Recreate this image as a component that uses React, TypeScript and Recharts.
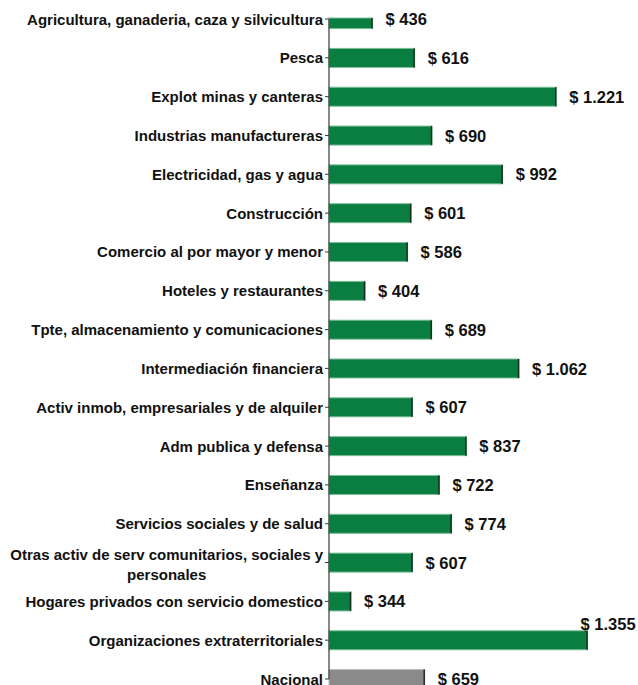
import React from 'react';
import { BarChart, Bar, XAxis, YAxis, Cell, LabelList } from 'recharts';

const categories = [
  'Agricultura, ganaderia, caza y silvicultura',
  'Pesca',
  'Explot minas y canteras',
  'Industrias manufactureras',
  'Electricidad, gas y agua',
  'Construcción',
  'Comercio al por mayor y menor',
  'Hoteles y restaurantes',
  'Tpte, almacenamiento y comunicaciones',
  'Intermediación financiera',
  'Activ inmob, empresariales y de alquiler',
  'Adm publica y defensa',
  'Enseñanza',
  'Servicios sociales y de salud',
  'Otras activ de serv comunitarios, sociales y\npersonales',
  'Hogares privados con servicio domestico',
  'Organizaciones extraterritoriales',
  'Nacional',
];

const values = [436, 616, 1221, 690, 992, 601, 586, 404, 689, 1062, 607, 837, 722, 774, 607, 344, 1355, 659];

const isTotal = [false, false, false, false, false, false, false, false, false, false, false, false, false, false, false, false, false, true];

const tickIndexes = categories.map((_, i) => i);

const data = categories.map((name, i) => ({ idx: i, name, value: values[i], total: isTotal[i] }));

const FONT = '"Liberation Sans", Arial, sans-serif';
const CHART_W = 638;
const CHART_H = 685;
const PLOT_TOP = 18;

const GREEN = '#0a7d40';
const GREEN_EDGE = '#7cbf98';
const GRAY = '#8a8a8a';
const GRAY_EDGE = '#b8b8b8';

let canvasCtx: CanvasRenderingContext2D | null = null;
function measure(text: string, font: string): number {
  if (!canvasCtx) {
    const c = document.createElement('canvas');
    canvasCtx = c.getContext('2d');
  }
  if (!canvasCtx) return text.length * 8;
  canvasCtx.font = font;
  return canvasCtx.measureText(text).width;
}

function fmt(v: number): string {
  return '$ ' + String(v).replace(/\B(?=(\d{3})+(?!\d))/g, '.');
}

const BarShape = (props: any) => {
  const { x, y, width, height, payload } = props;
  const top = Math.max(y, PLOT_TOP);
  const h = y + height - top;
  if (h <= 0 || width <= 0) return null;
  const total = payload && payload.total;
  return (
    <g>
      <rect x={x} y={top} width={width} height={h} fill={total ? GRAY : GREEN} stroke={total ? GRAY_EDGE : GREEN_EDGE} strokeWidth={1} />
      <line x1={x + width - 0.5} x2={x + width - 0.5} y1={top} y2={top + h} stroke={total ? '#2a2a2a' : '#17301f'} strokeWidth={1.5} />
    </g>
  );
};

const ValueLabel = (props: any) => {
  const { x, y, width, height, value } = props;
  const text = fmt(value);
  const font = `bold 16.5px ${FONT}`;
  const w = measure(text, font);
  const endX = x + width;
  if (endX + 13 + w > CHART_W - 2) {
    return (
      <text x={endX - 7} y={y - 1} fontFamily={FONT} fontWeight="bold" fontSize={16.5} fill="#111">
        {text}
      </text>
    );
  }
  return (
    <text x={endX + 13} y={y + height / 2} dominantBaseline="central" fontFamily={FONT} fontWeight="bold" fontSize={16.5} fill="#111">
      {text}
    </text>
  );
};

const CategoryTick = (props: any) => {
  const { x, y, payload } = props;
  const label = categories[payload.value] ?? '';
  const lines = label.split('\n');
  if (lines.length === 1) {
    return (
      <text x={x} y={y} textAnchor="end" dominantBaseline="central" fontFamily={FONT} fontWeight="bold" fontSize={15} fill="#111">
        {label}
      </text>
    );
  }
  const w1 = measure(lines[0], `bold 15px ${FONT}`);
  return (
    <g>
      <text x={x} y={y - 8} textAnchor="end" dominantBaseline="central" fontFamily={FONT} fontWeight="bold" fontSize={15} fill="#111">
        {lines[0]}
      </text>
      <text x={x - w1 / 2} y={y + 12} textAnchor="middle" dominantBaseline="central" fontFamily={FONT} fontWeight="bold" fontSize={15} fill="#111">
        {lines[1]}
      </text>
    </g>
  );
};

export default function App() {
  return (
    <div style={{ position: 'absolute', left: 0, top: 0, width: CHART_W, height: CHART_H, background: '#fff' }}>
      <BarChart
        width={CHART_W}
        height={CHART_H}
        data={data}
        layout="vertical"
        margin={{ top: 19, right: 16.5, bottom: 6, left: 0 }}
      >
        <XAxis type="number" dataKey="value" domain={[250, 1500]} hide />
        <YAxis
          type="number"
          dataKey="idx"
          domain={[0, categories.length - 1]}
          ticks={tickIndexes}
          interval={0}
          width={329}
          tickSize={4}
          tickMargin={2}
          axisLine={{ stroke: '#3a3a3a', strokeWidth: 1.2 }}
          tickLine={{ stroke: '#3a3a3a' }}
          tick={<CategoryTick />}
        />
        <Bar dataKey="value" barSize={19} isAnimationActive={false} shape={<BarShape />}>
          {data.map((d, i) => (
            <Cell key={i} fill={d.total ? GRAY : GREEN} />
          ))}
          <LabelList dataKey="value" content={<ValueLabel />} />
        </Bar>
      </BarChart>
    </div>
  );
}
